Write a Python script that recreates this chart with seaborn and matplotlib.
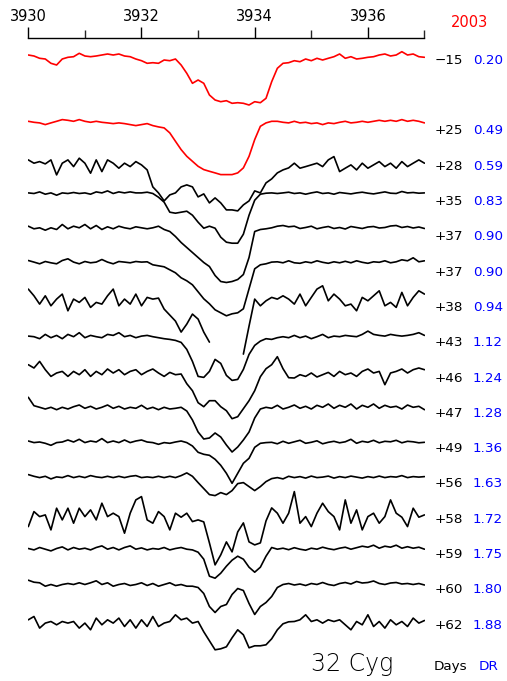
import numpy as np
import pandas as pd
import matplotlib
matplotlib.use("Agg")
import matplotlib.pyplot as plt
import seaborn as sns

# ---------------- data ----------------
wl_start, wl_step, n_pts = 3930.0, 0.1, 71
days = ["\u221215", "+25", "+28", "+35", "+37", "+37", "+38", "+43",
        "+46", "+47", "+49", "+56", "+58", "+59", "+60", "+62"]
dr = ["0.20", "0.49", "0.59", "0.83", "0.90", "0.90", "0.94", "1.12",
      "1.24", "1.28", "1.36", "1.63", "1.72", "1.75", "1.80", "1.88"]
year = "2003"
star = "32 Cyg"
tick_values = [3930, 3932, 3934, 3936]
minor_tick_values = [3931, 3933, 3935, 3937]

# relative intensity (arbitrary units, continuum ~ 0), one list per spectrum
s_m15 = [4, 3, 0.7, 0, -4.3, -6, 0, 1.7, 2.3, 5.7, 3, 2.3, 3, 4, 5, 4, 5, 3, 2.3, 0,
         -1.7, -4.3, -3.7, -4.3, -1, -1.7, 0, -6, -14.3, -24.3, -21, -24.3, -36, -41, -42.7,
         -41.7, -44.3, -43.7, -44.3, -46, -42.7, -43.7, -39.3, -22.7, -9.3, -4.3, -3.7, -1.7,
         -2.7, 0, -1.7, 0.7, -1, 0.7, 2.3, 5, 0.7, 2.3, 0, 0.7, 1.7, 2.3, 4, 5, 3, 4, 7.3,
         4, 5, 2.3, 1.7]
s_p25 = [8.3, 7.3, 6.7, 5, 6.7, 8.3, 10, 9.3, 8.3, 10, 8.3, 7.3, 8.3, 7.3, 6.7, 6, 6.7, 6,
         5, 4, 5, 6, 4, 2.7, 1.7, -3.3, -11.7, -20, -26.7, -31.7, -36.7, -40, -41.7, -43.3,
         -45, -45, -45, -43.3, -38.3, -26.7, -10, 3.3, 6.7, 8.3, 8.3, 7.3, 6.7, 8.3, 6.7, 7.3,
         6, 6.7, 5, 6.7, 6, 7.3, 8.3, 6.7, 7.3, 8.3, 7.3, 8.3, 9.3, 8.3, 9.3, 8.3, 10, 8.3,
         9.3, 8.3, 6.7]
s_p28 = [5, 1.7, 3.3, 1, 5, -10, 1.7, 5, -1.7, 6.7, 1.7, -8.3, 5, -6.7, 5, 1.7, -3.3, 1.7,
         -1.7, 3.3, 0, -5, -22, -28, -36, -30, -28, -22, -20, -22, -32, -29, -38, -33, -38,
         -45, -45, -46, -40, -36, -26, -28, -18, -14, -8, -5, -3, 1.7, -3.3, -1.7, 0, 1.7,
         -1.7, 5, 8.3, -6.7, -3.3, 0, -5, 1.7, -3.3, 0, 3.3, -1.7, 1.7, -3.3, 3.3, -1.7, 1.7,
         5, 1.7]
s_p35 = [7.3, 6.7, 8.3, 6, 7.3, 5, 7.3, 6.7, 7.7, 6.7, 7.3, 6, 8.3, 7.3, 9.3, 6.7, 8.3, 7.3,
         8.3, 7.3, 7.3, 8, 6.7, 3, -2, -12, -13, -12, -11, -15, -22, -28, -26, -28, -37, -42,
         -43, -43, -34, -15, 0, 6, 7, 7.3, 6.7, 7.3, 8, 6.7, 7.3, 6, 7.3, 8.3, 6.7, 7.3, 6,
         7.7, 7, 6.3, 7.3, 8, 7, 6.3, 7.3, 8.3, 7, 6.7, 8.7, 7.3, 7.7, 7, 7.3]
s_p37a = [9.3, 6.7, 7.7, 5.3, 7.7, 6, 11, 6.7, 9.3, 7.7, 11, 6.7, 10, 6, 8.7, 6.7, 9.3, 7.7,
          6.7, 8.7, 7.7, 6.7, 7.7, 9.3, 6, 4, -1, -7, -12, -17, -22, -27, -31, -40, -46, -47,
          -46, -44, -39, -22, 4, 6, 6.7, 7.7, 9.3, 10, 8.7, 9.3, 7, 8, 9.3, 6.7, 8, 9, 7, 8,
          6.5, 9, 8, 7, 8.5, 9, 7.5, 8, 9.5, 10, 8, 9, 7.5, 8.5, 7]
s_p37b = [10.3, 8.7, 7, 9.3, 8, 7, 10.3, 12, 8.7, 7, 9.3, 8, 8.7, 11.3, 8.7, 7, 9.3, 8.7, 8,
          9.3, 8.7, 9, 6, 5, 4, 1, -2, -7, -10, -14, -21, -28, -33, -39, -42, -45, -43, -42,
          -38, -18, 2, 6, 7, 8.7, 9, 8, 10, 8, 7.5, 9, 8, 10, 8.5, 7.5, 9, 8, 9.5, 8, 10, 8.5,
          7.5, 9, 8.5, 10, 8, 9, 11, 10, 13, 9, 10]
s_p38 = [17, 10.3, 2, 10.3, 0.3, 7, 12, -4.7, 7, 3.7, 8.7, -1.3, 3.7, 2, 10.3, 17, 0.3, 7, 2,
         12, 0.3, 8.7, 7, 8, -3, -9, -15, -26, -18, -8, -13, -26, -36, np.nan, np.nan, np.nan,
         np.nan, np.nan, -48, -20, 7, 0.3, 5.3, 8.7, 7, 10.3, 7, 2, 12, 0.3, 8.7, 17, 20.3,
         5.3, 12, 7, 0.3, 2, -4.7, 8.7, 5.3, 10.3, 15.3, 0.3, 3.7, -1.3, 13.7, 0.3, 8.7,
         15.3, 12]
s_p43 = [5.3, 4.7, 2.7, 7, 3.7, 6, 2.7, 7, 4.7, 8.7, 3.7, 6, 4.7, 3.7, 7, 6, 8.7, 4.7, 6,
         3.7, 5.3, 6, 4.7, 3.7, 2.7, 2, 1, -1, -8, -20, -35, -36, -30, -18, -22, -34, -39,
         -38, -28, -13, -4, 0.3, 2.7, 2, 3.7, 4.7, 3.7, 6, 3.7, 5.3, 2.7, 4.7, 7, 3.7, 5.3,
         4.7, 6, 5.3, 4.7, 7, 10.3, 7, 6, 5.3, 7, 6, 5.3, 6, 7, 8.7, 6]
s_p46 = [12, 8.7, 15.3, 7, 0.3, 3.7, 5.3, 0.3, 5.3, 2, 7, 0.3, 5.3, 2, 7.7, 3.7, 7, 2, 5.3,
         7, 2, 5.3, 7.7, 3.7, 0.3, 4.3, 2, 2.7, -7, -14, -26, -30, -24, -24, -30, -34, -42,
         -40, -32, -24, -14, 0, 8, 12, 20, 8, -1, -1.3, 2, 0.3, 3.7, -0.3, 2, 4.3, 0.3, 5.3,
         2, 3.7, 0.3, 5.3, 7.7, 3.7, 5.3, -8, 3.7, 5.3, 7.7, 3.7, 7, 8.7, 7]
s_p47 = [14.7, 6.3, 4.7, 3, 4.7, 2.3, 4.7, 3, 5.3, 7, 3.7, 5.7, 3, 4.7, 7, 3.7, 5.7, 3, 4.7,
         3.7, 6.7, 3, 4.7, 2.3, 4.7, 3, 3.7, 4.7, 1, -8, -20, -27, -26, -21, -25, -33, -40,
         -35, -28, -20, -6, 3, 4.7, 3.7, 6.7, 3, 4.7, 7, 3.7, 5.7, 3, 6.7, 4.7, 8, 3.7, 6.7,
         4.7, 8, 3, 6.7, 4.7, 8, 3.7, 6.7, 4.7, 5.7, 3, 7, 4.7, 5.7, 2.3]
s_p49 = [6.3, 4.7, 5.3, 4, 2, 4.7, 5.3, 7.3, 5.3, 8, 4.7, 6.3, 5.3, 8.7, 4.7, 6.3, 4.7, 7.3,
         4.7, 6.3, 7.3, 5.3, 4.7, 3, 4.7, 4, 5.3, 6.3, 4.7, 1.3, -5, -7, -8, -12, -18, -26,
         -36, -26, -16, -11, 0, 4, 4.7, 5, 3.5, 6, 4, 5.5, 7, 4, 5, 6.5, 3.5, 5, 6, 4.5, 5.5,
         8, 4, 6, 5, 7, 4.5, 6, 5.5, 7, 4.5, 6, 5.5, 4.5, 5]
s_p56 = [8, 6.3, 5, 6.3, 3.7, 5.7, 5, 7, 5, 6.3, 5, 7, 5.7, 5, 6.3, 5, 6.3, 5, 6.3, 7, 5,
         5.7, 5, 6.3, 5, 6.3, 5, 7, 9.7, 6.3, 0, -6, -12, -13, -10, -12, -8, -1, 0, -4, -8,
         -4, 1, 4, 5, 3.7, 6.3, 5, 6, 4.5, 6.5, 5, 5.5, 6.5, 4.5, 6, 5, 6.5, 5.5, 4.5, 6, 5,
         6.5, 5, 6, 5.5, 7, 5, 6, 5.5, 6]
s_p58 = [-8.7, 6.3, 1.3, 3, -12, 9.7, -2, 9.7, -5.3, 9.7, 1.3, 8, -2, 14.7, 1.3, 4.7, 1.3,
         -15.3, 4.7, 18, 21.3, -2, -5.3, 6.3, 1.3, -12, 4.7, 0.7, 4.7, -3.7, -2, -4, -25,
         -47, -37, -24, -34, -14, -5, -24, -27, -25, -3, 10, 4.7, -5.3, 4.7, 26.3, -5.3, 1.3,
         -8.7, 4.7, 14.7, 6.3, 1.3, -12, 18, -5.3, 8, -12, 1.3, 4.7, -5.3, 1.3, 18, 4.7, 0.7,
         -8.7, 9.7, 0.7, 3]
s_p59 = [4.7, 3.3, 5.7, 4, 2.3, 4.7, 6.3, 3.3, 5.7, 4, 5, 3.3, 5.7, 7.3, 4, 5.7, 3.3, 5.7,
         7.3, 4, 5.3, 3.3, 4.7, 4, 5.7, 3.3, 4.7, 5.7, 4, 3.3, 1, -6, -23, -25, -20, -13, -7,
         -3, -6, -14, -19, -14, -3, 5.7, 4, 5, 3.5, 5.5, 4, 3, 5, 4, 6, 4.5, 3.5, 5, 6, 4,
         5.5, 7, 6, 8, 5, 7, 6, 8, 5, 6.5, 5, 6, 4]
s_p60 = [8.3, 6.3, 5.7, 2.3, 4, 2.3, 4, 5, 4, 5.7, 4, 5.7, 7.7, 4, 5.7, 2.3, 4, 5, 3, 4,
         5.7, 3, 5, 2.3, 4, 5.7, 3, 4, 2.3, 2.3, 1, -5, -18, -24, -18, -16, -6, 0, -2, -15,
         -26, -18, -14, -8, 1, 4, 5, 3.5, 4.5, 3, 5, 4, 6, 4, 3, 5, 6, 4.5, 7, 5.5, 6, 7.5,
         5, 4, 5.5, 6, 4.5, 5, 4, 5, 3.5]
s_p62 = [4, 7.3, -4.3, 0.7, 2.3, -1, 2.3, 0.7, 2.3, -4.3, 0.7, -6, 5.7, -1, 4, 0.7, 5.7,
         -2.7, 4, -4.3, 4, -2.7, 7.3, -2.7, 0.7, 2.3, 9, 4, 5.7, 0.7, 2.3, -8, -17, -26, -25,
         -23, -14, -6, -11, -24, -22, -22, -21, -15, -6, 0, 2, 2.3, 4, 9, 2.3, 4, 0.7, 4,
         2.3, 4, -1, -6, 2.3, -1, 9, -2.7, 2.3, -4.3, 4, -1, 2.3, -2.7, 5.7, 0.7, 3.3]

spectra = [s_m15, s_p25, s_p28, s_p35, s_p37a, s_p37b, s_p38, s_p43,
           s_p46, s_p47, s_p49, s_p56, s_p58, s_p59, s_p60, s_p62]
slots = [0, 2, 3, 4, 5, 6, 7, 8, 9, 10, 11, 12, 13, 14, 15, 16]

# ---------------- layout / style ----------------
W, H = 507, 681
SLOT_TOP, SLOT_STEP = 59.0, 35.3     # vertical placement (pixels)
RED, BLUE, BLACK = "#ff0000", "#0000ff", "#000000"
colors = [RED, RED] + [BLACK] * 14

sns.set_style("white")
plt.rcParams["font.family"] = ["DejaVu Sans"]

wl = wl_start + wl_step * np.arange(n_pts)
rows = []
for k, (spec, slot) in enumerate(zip(spectra, slots)):
    base = -(SLOT_TOP + SLOT_STEP * slot)
    vals = np.asarray(spec, dtype=float)
    seg = np.cumsum(np.isnan(vals))
    for x, v, s in zip(wl, vals, seg):
        if not np.isnan(v):
            rows.append({"wl": x, "y": base + v, "spec": k, "unit": f"{k}-{s}"})
df = pd.DataFrame(rows)

fig = plt.figure(figsize=(W / 100, H / 100), dpi=100)
L, T, R, B = 28.3, 38.0, 424.5, 670.0
ax = fig.add_axes([L / W, 1 - B / H, (R - L) / W, (B - T) / H])

sns.lineplot(data=df, x="wl", y="y", hue="spec", units="unit", estimator=None,
             palette={k: c for k, c in enumerate(colors)}, legend=False,
             sort=False, linewidth=1.2, ax=ax)

ax.set_xlim(3930, 3937)
ax.set_ylim(-B, -T)
for s in ["left", "right", "bottom"]:
    ax.spines[s].set_visible(False)
ax.spines["top"].set_linewidth(1.0)
ax.spines["top"].set_color("black")
ax.xaxis.tick_top()
ax.set_xticks(tick_values)
ax.set_xticklabels([str(t) for t in tick_values])
ax.set_xticks(minor_tick_values, minor=True)
ax.tick_params(axis="x", which="major", direction="out", length=8, width=1.0,
               pad=2, labelsize=10.5, top=True, bottom=False, colors="black")
ax.tick_params(axis="x", which="minor", direction="out", length=5.8, width=1.0,
               top=True, bottom=False)
ax.set_yticks([])
ax.set_xlabel("")
ax.set_ylabel("")

for d, r, slot in zip(days, dr, slots):
    yb = 1 - (SLOT_TOP + SLOT_STEP * slot + 4.9) / H
    fig.text(463 / W, yb, d, ha="right", va="baseline", fontsize=9.7, color=BLACK)
    fig.text(473 / W, yb, r, ha="left", va="baseline", fontsize=9.7, color=BLUE)

fig.text(469.5 / W, 1 - 27.4 / H, year, ha="center", va="baseline", fontsize=10.5, color=RED)
fig.text(352.5 / W, 1 - 671.5 / H, star, ha="center", va="baseline", fontsize=17,
         fontweight="light", color=BLACK)
fig.text(450 / W, 1 - 670 / H, "Days", ha="center", va="baseline", fontsize=9.7, color=BLACK)
fig.text(489 / W, 1 - 670 / H, "DR", ha="center", va="baseline", fontsize=9.7, color=BLUE)

fig.savefig("out.png", dpi=100)
